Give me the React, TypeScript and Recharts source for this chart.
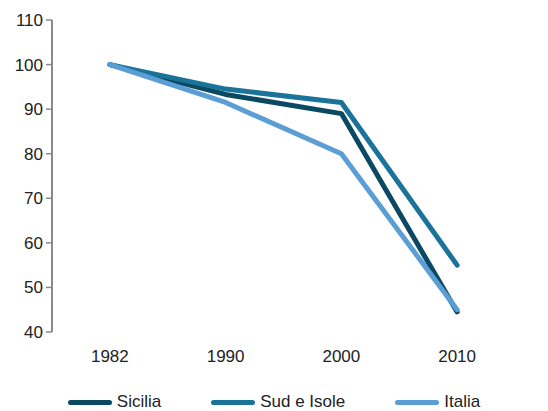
import { LineChart, Line, XAxis, YAxis, Legend } from "recharts";

const years = ["1982", "1990", "2000", "2010"];
const positions = [0.5, 1.5, 2.5, 3.5];
const sicilia = [100, 93.3, 89, 44.5];
const sudIsole = [100, 94.5, 91.5, 55];
const italia = [100, 91.5, 80, 45];
const yTicks = [40, 50, 60, 70, 80, 90, 100, 110];
const bandEdges = [0, 1, 2, 3, 4];

const series = [
    { key: "sicilia", name: "Sicilia", color: "#0b4862" },
    { key: "sud", name: "Sud e Isole", color: "#1a7499" },
    { key: "italia", name: "Italia", color: "#5b9ed6" },
];

const data = years.map((year, i) => ({
    year,
    x: positions[i],
    sicilia: sicilia[i],
    sud: sudIsole[i],
    italia: italia[i],
}));

const FONT = "'Liberation Sans', Arial, sans-serif";
const AXIS = "#8a8a8a";

function LegendContent() {
    return (
        <div style={{ display: "flex", justifyContent: "center", gap: 50, height: 18, lineHeight: "18px", fontFamily: FONT, fontSize: 17, color: "#222" }}>
            {series.map((s) => (
                <div key={s.key} style={{ display: "flex", alignItems: "center" }}>
                    <span style={{ display: "inline-block", width: 44, height: 5, borderRadius: 3, background: s.color, marginRight: 5 }} />
                    <span>{s.name}</span>
                </div>
            ))}
        </div>
    );
}

export default function App() {
    return (
        <div style={{ position: "absolute", left: 0, top: 0, background: "#fff" }}>
            <LineChart width={548} height={411} data={data} margin={{ top: 20, right: 33, left: 0, bottom: 0 }}>
                <YAxis
                    domain={[40, 110]}
                    ticks={yTicks}
                    width={52}
                    axisLine={{ stroke: AXIS, strokeWidth: 2 }}
                    tickLine={{ stroke: AXIS, strokeWidth: 1.5 }}
                    tickSize={6}
                    tickMargin={3}
                    tick={{ fontSize: 17, fill: "#222", fontFamily: FONT }}
                />
                <XAxis
                    xAxisId="edges"
                    type="number"
                    domain={[0, 4]}
                    ticks={bandEdges}
                    height={0}
                    axisLine={{ stroke: AXIS, strokeWidth: 2 }}
                    tickLine={{ stroke: AXIS, strokeWidth: 1.5 }}
                    tickSize={6}
                    tick={() => <g />}
                />
                <XAxis
                    xAxisId="main"
                    dataKey="x"
                    type="number"
                    domain={[0, 4]}
                    ticks={positions}
                    height={61}
                    axisLine={false}
                    tickLine={false}
                    tickSize={8}
                    tickMargin={10}
                    tickFormatter={(v: number) => years[positions.indexOf(v)] ?? ""}
                    tick={{ fontSize: 17, fill: "#222", fontFamily: FONT }}
                />
                <Legend verticalAlign="bottom" content={<LegendContent />} wrapperStyle={{ left: 0, width: 548 }} />
                {series.map((s) => (
                    <Line
                        key={s.key}
                        xAxisId="main"
                        dataKey={s.key}
                        name={s.name}
                        stroke={s.color}
                        strokeWidth={5}
                        strokeLinecap="round"
                        strokeLinejoin="round"
                        dot={false}
                        activeDot={false}
                        isAnimationActive={false}
                    />
                ))}
            </LineChart>
        </div>
    );
}
